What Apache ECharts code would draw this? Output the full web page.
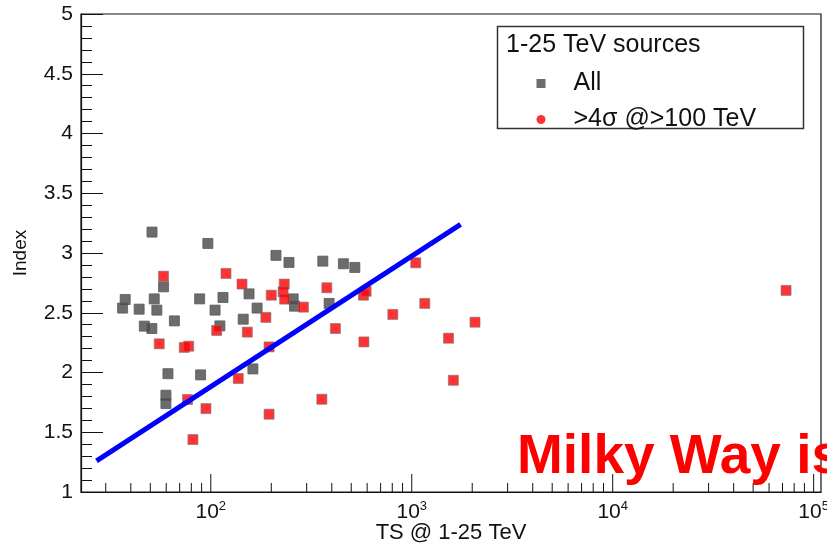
<!DOCTYPE html>
<html>
<head>
<meta charset="utf-8">
<script src="https://cdn.jsdelivr.net/npm/echarts@6.0.0/dist/echarts.min.js"></script>
<style>
  html, body { margin: 0; padding: 0; background: #ffffff; }
  #chart { width: 827px; height: 544px; }
</style>
</head>
<body>
<div id="chart"></div>
<script>
// Sources detected at 1-25 TeV: test statistic vs. spectral index
const allTS = [51, 58.2, 37.5, 36.4, 44.0, 52.3, 53.9, 65.9, 46.7, 50.9,
               88, 96.7, 211, 245, 155, 257, 261, 115, 105, 170,
               145, 111, 162, 89, 61.2, 59.8, 59.8, 361, 457, 521, 388];
const allIndex = [3.175, 2.717, 2.611, 2.539, 2.530, 2.616, 2.522, 2.432, 2.388, 2.368,
                  2.616, 3.080, 2.980, 2.921, 2.658, 2.616, 2.555, 2.628, 2.522, 2.539,
                  2.446, 2.390, 2.030, 1.980, 1.990, 1.810, 1.740, 2.932, 2.910, 2.879, 2.578];

// Subset with >4 sigma above 100 TeV
const sigTS = [58.2, 55.4, 73.8, 77.6, 119, 143, 200, 232, 229, 233,
               188, 107, 152, 195, 76.6, 94.6, 81.5, 195, 137, 1047,
               1161, 805, 2065, 1524, 1611, 357, 578, 417, 575, 593,
               378, 289, 72900];
const sigIndex = [2.806, 2.240, 2.210, 2.220, 2.829, 2.740, 2.647, 2.740, 2.675, 2.614,
                  2.461, 2.352, 2.338, 2.214, 1.774, 1.698, 1.439, 1.651, 1.950, 2.918,
                  2.578, 2.486, 2.421, 2.287, 1.935, 1.776, 2.256, 2.368, 2.647, 2.680,
                  2.709, 2.547, 2.687];

// Straight reference line
const lineTS = [27, 1750];
const lineIndex = [1.26, 3.24];

// Log-axis tick positions (decades and 2..9 subdivisions)
const xMajorTicks = [100, 1000, 10000, 100000];
const xMinorTicks = [30, 40, 50, 60, 70, 80, 90,
                     200, 300, 400, 500, 600, 700, 800, 900,
                     2000, 3000, 4000, 5000, 6000, 7000, 8000, 9000,
                     20000, 30000, 40000, 50000, 60000, 70000, 80000, 90000];

const X_MIN = 22.6, X_MAX = 108800;
const Y_MIN = 1, Y_MAX = 5;

const FONT = '"Liberation Sans", Arial, Helvetica, sans-serif';

const zip = (a, b) => a.map((v, i) => [v, b[i]]);

const tickData = xMajorTicks.map(v => [v, Y_MIN, 1])
  .concat(xMinorTicks.map(v => [v, Y_MIN, 0]));

const chart = echarts.init(document.getElementById('chart'), null, { renderer: 'canvas' });

chart.setOption({
  animation: false,
  backgroundColor: '#ffffff',
  grid: {
    left: 81, right: 6, top: 14, bottom: 52,
    outerBoundsMode: 'none',
    containLabel: false,
    show: true, borderColor: '#111', borderWidth: 1.2, backgroundColor: 'transparent'
  },
  xAxis: {
    type: 'log',
    logBase: 10,
    min: X_MIN,
    max: X_MAX,
    name: 'TS @ 1-25 TeV',
    nameLocation: 'middle',
    nameGap: 30,
    nameMoveOverlap: false,
    nameTextStyle: { fontFamily: FONT, fontSize: 22, color: '#111' },
    axisLine: { show: true, lineStyle: { color: '#111', width: 1.2 } },
    axisTick: { show: false },
    splitLine: { show: false },
    axisLabel: {
      margin: 8,
      fontFamily: FONT,
      color: '#111',
      formatter: function (v) {
        const e = Math.log10(v);
        const r = Math.round(e);
        if (Math.abs(e - r) > 1e-6) return '';
        return '{b|10}{s|' + r + '}';
      },
      rich: {
        b: { fontFamily: FONT, fontSize: 21, color: '#111', lineHeight: 24 },
        s: { fontFamily: FONT, fontSize: 13, color: '#111', lineHeight: 11, verticalAlign: 'top' }
      }
    }
  },
  yAxis: {
    type: 'value',
    min: Y_MIN,
    max: Y_MAX,
    interval: 0.5,
    name: 'Index',
    nameLocation: 'middle',
    nameGap: 51,
    nameMoveOverlap: false,
    nameTextStyle: { fontFamily: FONT, fontSize: 19, color: '#111' },
    axisLine: { show: true, lineStyle: { color: '#111', width: 1.2 } },
    axisTick: { show: true, inside: true, length: 22, lineStyle: { color: '#111', width: 1 } },
    minorTick: { show: true, splitNumber: 5, length: 11, lineStyle: { color: '#111', width: 1 } },
    splitLine: { show: false },
    axisLabel: { margin: 8, fontFamily: FONT, fontSize: 21, color: '#111' }
  },
  legend: {
    orient: 'vertical',
    left: 531.5,
    top: 65,
    itemWidth: 9,
    itemHeight: 9,
    itemGap: 9,
    selectedMode: false,
    textStyle: { fontFamily: FONT, fontSize: 25, color: '#111', lineHeight: 27, padding: [0, 0, 0, 23] },
    data: [
      { name: 'All', icon: 'rect', itemStyle: { borderWidth: 0 } },
      { name: '>4σ @>100 TeV', icon: 'circle', itemStyle: { borderWidth: 0 } }
    ]
  },
  graphic: [
    {
      type: 'rect',
      z: 2,
      shape: { x: 497.5, y: 26.5, width: 306, height: 102 },
      style: { fill: 'transparent', stroke: '#333', lineWidth: 1.5 }
    },
    {
      type: 'text',
      z: 3,
      x: 506,
      y: 45,
      style: {
        text: '1-25 TeV sources',
        font: '25px ' + FONT,
        fill: '#111',
        textAlign: 'left',
        textVerticalAlign: 'middle',
        verticalAlign: 'middle'
      }
    },
    {
      type: 'text',
      z: 10,
      x: 517,
      y: 485,
      style: {
        text: 'Milky Way is',
        font: 'bold 55px ' + FONT,
        fill: '#ff0000',
        textAlign: 'left',
        textVerticalAlign: 'bottom',
        verticalAlign: 'bottom'
      }
    }
  ],
  series: [
    {
      name: 'All',
      type: 'scatter',
      symbol: 'rect',
      symbolSize: 10,
      itemStyle: { color: '#474747', borderColor: '#5a5a5a', borderWidth: 1 },
      data: zip(allTS, allIndex),
      z: 3
    },
    {
      name: '>4σ @>100 TeV',
      type: 'scatter',
      symbol: 'rect',
      symbolSize: 10,
      itemStyle: { color: '#ff0000', borderColor: '#777777', borderWidth: 0.8 },
      data: zip(sigTS, sigIndex),
      z: 4
    },
    {
      name: 'trend',
      type: 'line',
      symbol: 'none',
      lineStyle: { color: '#0000ff', width: 5, cap: 'butt' },
      data: zip(lineTS, lineIndex),
      z: 5
    },
    {
      name: 'xticks',
      type: 'custom',
      silent: true,
      clip: false,
      z: 6,
      data: tickData,
      renderItem: function (params, api) {
        const p = api.coord([api.value(0), api.value(1)]);
        const len = api.value(2) ? 18 : 9;
        return {
          type: 'line',
          shape: { x1: p[0], y1: p[1], x2: p[0], y2: p[1] - len },
          style: { stroke: '#111', lineWidth: 1 }
        };
      }
    }
  ]
});
</script>
</body>
</html>
